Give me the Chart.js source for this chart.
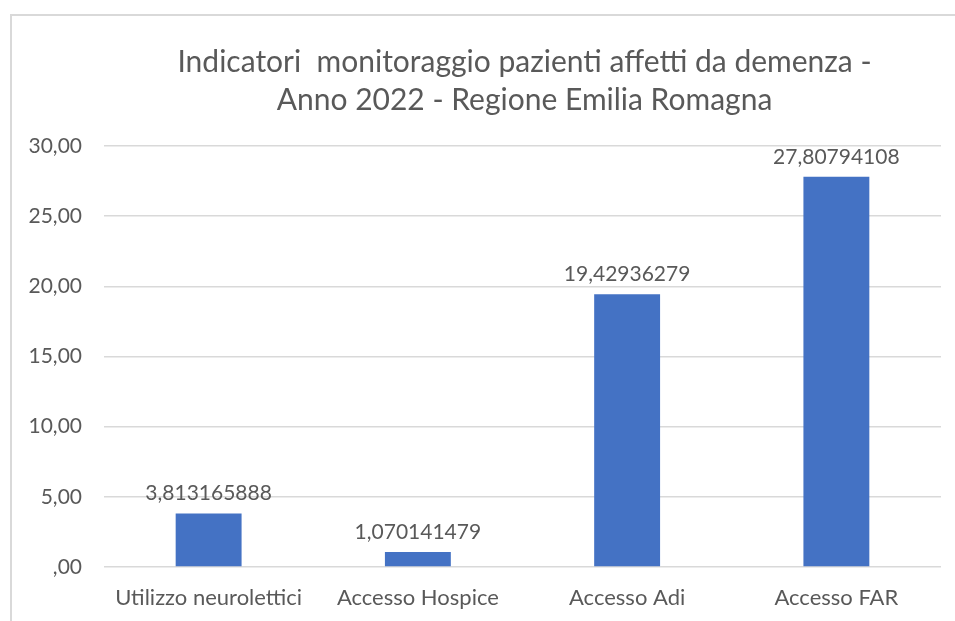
<!DOCTYPE html>
<html><head><meta charset="utf-8">
<script src="https://cdn.jsdelivr.net/npm/chart.js@4/dist/chart.umd.min.js"></script>
<style>html,body{margin:0;padding:0;background:#fff;}#wrap{width:955px;height:621px;position:relative;}</style>
</head><body><div id="wrap"><canvas id="c" width="955" height="621"></canvas></div>
<script>
const categories = ["Utilizzo neurolettici", "Accesso Hospice", "Accesso Adi", "Accesso FAR"];
const values = [3.813165888, 1.070141479, 19.42936279, 27.80794108];
const valueLabels = ["3,813165888", "1,070141479", "19,42936279", "27,80794108"];
const yTicks = [0, 5, 10, 15, 20, 25, 30];
const titleLines = ["Indicatori  monitoraggio pazienti affetti da demenza -", "Anno 2022 - Regione Emilia Romagna"];

const FONT = "Lato, 'Open Sans', sans-serif";
const TEXT = "#595959";

const deco = {
  id: 'deco',
  beforeDraw(chart) {
    const ctx = chart.ctx;
    ctx.save();
    ctx.strokeStyle = '#d9d9d9';
    ctx.lineWidth = 2;
    ctx.beginPath();
    ctx.moveTo(11, 621); ctx.lineTo(11, 15); ctx.lineTo(955, 15);
    ctx.stroke();
    ctx.restore();
  },
  afterDraw(chart) {
    const ctx = chart.ctx;
    const ca = chart.chartArea;
    ctx.save();
    ctx.fillStyle = TEXT;
    ctx.textAlign = 'center';
    ctx.textBaseline = 'middle';
    ctx.font = "30px " + FONT;
    const cx = (ca.left + ca.right) / 2 + 2;
    ctx.fillText(titleLines[0], cx, 62);
    ctx.fillText(titleLines[1], cx, 100);
    ctx.font = "21px " + FONT;
    const meta = chart.getDatasetMeta(0);
    meta.data.forEach((bar, i) => {
      ctx.fillText(valueLabels[i], bar.x, bar.y - 20);
    });
    ctx.restore();
  }
};

new Chart(document.getElementById('c'), {
  type: 'bar',
  data: {
    labels: categories,
    datasets: [{
      data: values,
      backgroundColor: '#4472C4',
      barPercentage: 0.63,
      categoryPercentage: 0.5
    }]
  },
  options: {
    responsive: false,
    animation: false,
    events: [],
    layout: { padding: { top: 146, right: 14, left: 0, bottom: 0 } },
    plugins: { legend: { display: false }, title: { display: false }, tooltip: { enabled: false } },
    scales: {
      x: {
        grid: { display: false },
        border: { display: false },
        ticks: { color: TEXT, font: { family: FONT, size: 22 }, padding: 10, maxRotation: 0 },
        afterFit(s) { s.height = 54; }
      },
      y: {
        min: 0, max: 30,
        afterBuildTicks(s) { s.ticks = yTicks.map(v => ({ value: v })); },
        grid: { color: '#d9d9d9', lineWidth: 1.5, drawTicks: false },
        border: { display: false },
        ticks: {
          color: TEXT, font: { family: FONT, size: 21 }, padding: 22,
          callback: v => v === 0 ? ',00' : v.toFixed(2).replace('.', ',')
        },
        afterFit(s) { s.width = 104; }
      }
    }
  },
  plugins: [deco]
});
</script></body></html>
